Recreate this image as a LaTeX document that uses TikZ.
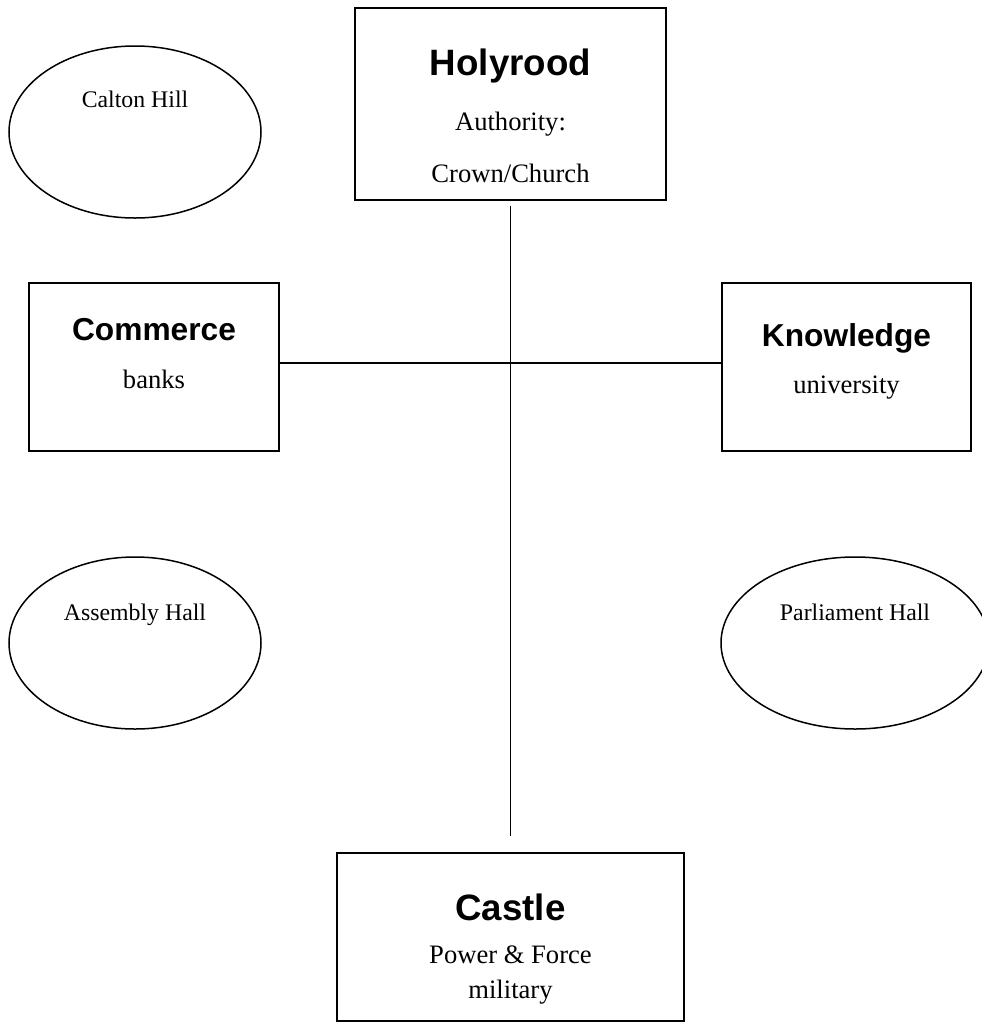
\documentclass[tikz,border=0pt]{standalone}
\usepackage{fontspec}
\setmainfont{Liberation Serif}
\newfontfamily\headfont{Liberation Sans}
\usepackage{tikz}
\usetikzlibrary{positioning,shapes.geometric}

\begin{document}
\begin{tikzpicture}[x=1pt,y=-1pt,
  site/.style={draw,line width=1.5pt,rectangle,inner sep=0pt},
  hill/.style={draw,line width=1.5pt,ellipse,inner sep=0pt,minimum height=172pt},
  big/.style={anchor=base,font=\headfont\bfseries\fontsize{36.7}{40}\selectfont},
  mid/.style={anchor=base,font=\headfont\bfseries\fontsize{31.7}{36}\selectfont},
  txt/.style={anchor=base,font=\fontsize{26.6}{30}\selectfont},
  small/.style={anchor=base,font=\fontsize{23.8}{28}\selectfont}]
  \useasboundingbox (0,0) rectangle (982,1026);
  \clip (0,0) rectangle (982,1026);
  % the four quarters
  \node[site,minimum width=311pt,minimum height=192pt] (holyrood) at (510.5,104) {};
  \node[site,minimum width=250pt,minimum height=168pt] (commerce) at (154,367) {};
  \node[site,minimum width=249pt,minimum height=168pt] (knowledge) at (846.5,367) {};
  \node[site,minimum width=347pt,minimum height=168pt] (castle) at (510.5,937) {};
  \node[big] (holyroodT) at (510.5,75) {Holyrood};
  \node[txt] (holyroodA) at (510.5,130) {Authority:};
  \node[txt] (holyroodB) at (510.5,182) {Crown/Church};
  \node[mid] (commerceT) at (154,340) {Commerce};
  \node[txt] (commerceA) at (154,388) {banks};
  \node[mid] (knowledgeT) at (846.5,346) {Knowledge};
  \node[txt] (knowledgeA) at (846.5,393) {university};
  \node[big] (castleT) at (510.5,920) {Castle};
  \node[txt] (castleA) at (510.5,963) {Power \& Force};
  \node[txt] (castleB) at (510.5,998) {military};
  % the halls
  \node[hill,minimum width=252pt] (calton) at (135,132) {};
  \node[hill,minimum width=252pt] (assembly) at (135,643) {};
  \node[hill,minimum width=268pt] (parliament) at (855,643) {};
  \node[small] (caltonT) at (135,107) {Calton Hill};
  \node[small] (assemblyT) at (135,620) {Assembly Hall};
  \node[small] (parliamentT) at (855,620) {Parliament Hall};
  % the cross
  \coordinate (spinetop) at ([yshift=-5pt]holyrood.south);
  \coordinate (spinebot) at ([yshift=16pt]castle.north);
  \draw[line width=1.5pt] (spinetop) -- (spinebot);
  \draw[line width=1.5pt] ([yshift=4pt]commerce.east) -- ([yshift=4pt]knowledge.west);
\end{tikzpicture}
\end{document}
